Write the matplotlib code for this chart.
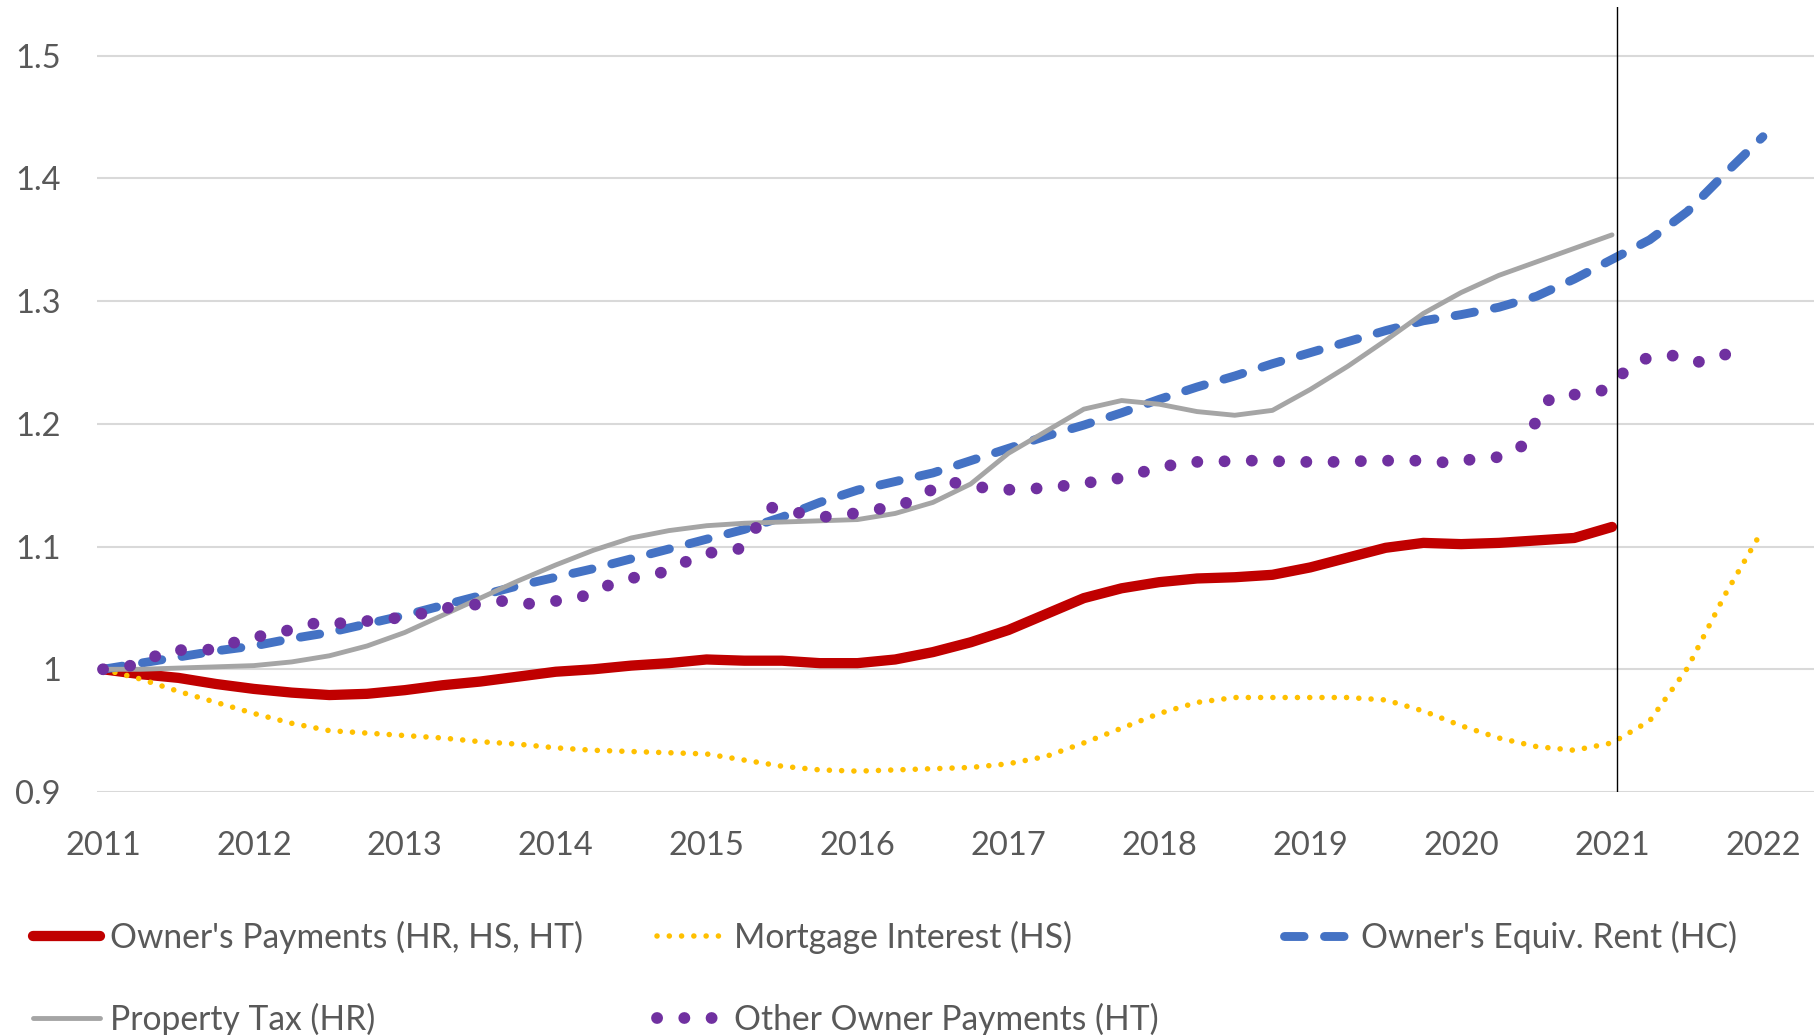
import matplotlib.pyplot as plt

# quarterly positions, 2011.00 .. 2022.00
quarters = [2011 + i / 4 for i in range(45)]

owners_payments = [1.000, 0.996, 0.993, 0.988, 0.984, 0.981, 0.979, 0.980,
                   0.983, 0.987, 0.990, 0.994, 0.998, 1.000, 1.003, 1.005,
                   1.008, 1.007, 1.007, 1.005, 1.005, 1.008, 1.014, 1.022,
                   1.032, 1.045, 1.058, 1.066, 1.071, 1.074, 1.075, 1.077,
                   1.083, 1.091, 1.099, 1.103, 1.102, 1.103, 1.105, 1.107,
                   1.116]

mortgage_interest = [1.000, 0.992, 0.982, 0.973, 0.964, 0.956, 0.950, 0.948,
                     0.946, 0.944, 0.941, 0.939, 0.936, 0.934, 0.933, 0.932,
                     0.931, 0.926, 0.921, 0.918, 0.917, 0.918, 0.919, 0.920,
                     0.923, 0.929, 0.940, 0.952, 0.964, 0.973, 0.977, 0.977,
                     0.977, 0.977, 0.975, 0.966, 0.954, 0.944, 0.937, 0.934,
                     0.940, 0.958, 1.001, 1.061, 1.114]

owners_equiv_rent = [1.000, 1.005, 1.010, 1.015, 1.019, 1.025, 1.030, 1.037,
                     1.044, 1.052, 1.060, 1.068, 1.075, 1.082, 1.090, 1.098,
                     1.106, 1.114, 1.124, 1.136, 1.146, 1.153, 1.160, 1.170,
                     1.180, 1.190, 1.199, 1.209, 1.220, 1.230, 1.239, 1.249,
                     1.258, 1.267, 1.276, 1.284, 1.289, 1.295, 1.304, 1.318,
                     1.334, 1.350, 1.373, 1.404, 1.434]

property_tax = [1.000, 1.000, 1.001, 1.002, 1.003, 1.006, 1.011, 1.019,
                1.030, 1.044, 1.058, 1.072, 1.085, 1.097, 1.107, 1.113,
                1.117, 1.119, 1.120, 1.121, 1.122, 1.127, 1.136, 1.151,
                1.176, 1.194, 1.212, 1.219, 1.216, 1.210, 1.207, 1.211,
                1.228, 1.247, 1.268, 1.290, 1.307, 1.321, 1.332, 1.343,
                1.354]

years_other = [2011.00, 2011.25, 2011.41, 2011.58, 2011.76, 2011.93,
               2012.10, 2012.27, 2012.45, 2012.62, 2012.79, 2012.97,
               2013.14, 2013.32, 2013.49, 2013.67, 2013.85,
               2014.02, 2014.20, 2014.36, 2014.53, 2014.71, 2014.87,
               2015.03, 2015.21, 2015.32, 2015.42, 2015.59, 2015.76, 2015.93,
               2016.11, 2016.28, 2016.44, 2016.60, 2016.78, 2016.95,
               2017.12, 2017.30, 2017.48, 2017.65, 2017.83,
               2018.00, 2018.17, 2018.35, 2018.52, 2018.70, 2018.88,
               2019.05, 2019.23, 2019.40, 2019.58, 2019.76, 2019.94,
               2020.11, 2020.27, 2020.42, 2020.50, 2020.59, 2020.76, 2020.93,
               2021.07, 2021.22, 2021.39, 2021.56, 2021.73, 2021.90]
other_owner_payments = [1.000, 1.004, 1.015, 1.016, 1.016, 1.025,
                        1.028, 1.033, 1.039, 1.037, 1.040, 1.042,
                        1.046, 1.051, 1.053, 1.056, 1.053,
                        1.056, 1.060, 1.069, 1.075, 1.079, 1.088,
                        1.095, 1.098, 1.114, 1.132, 1.128, 1.124, 1.126,
                        1.130, 1.133, 1.143, 1.153, 1.149, 1.146,
                        1.147, 1.148, 1.152, 1.153, 1.159,
                        1.164, 1.169, 1.169, 1.170, 1.170, 1.169,
                        1.169, 1.169, 1.170, 1.170, 1.170, 1.168,
                        1.172, 1.173, 1.183, 1.203, 1.221, 1.224, 1.227,
                        1.241, 1.253, 1.256, 1.250, 1.256, 1.260]

x_ticks = list(range(2011, 2023))
y_ticks = [0.9, 1.0, 1.1, 1.2, 1.3, 1.4, 1.5]
y_labels = ["0.9", "1", "1.1", "1.2", "1.3", "1.4", "1.5"]

plt.rcParams['font.family'] = ['Lato', 'DejaVu Sans']
TXT = "#595959"
W, H = 1814, 1035

fig = plt.figure(figsize=(W / 100, H / 100), dpi=100)
ax = fig.add_axes([97 / W, 243 / H, 1 - 97 / W, (1035 - 243 - 7) / H])

red, = ax.plot(quarters[:41], owners_payments, color="#C00000", lw=7.4,
               solid_capstyle="round", zorder=3)
yellow, = ax.plot(quarters, mortgage_interest, color="#FFC000", lw=4,
                  linestyle=(0, (0.01, 2.2)), dash_capstyle="round", zorder=4)
blue, = ax.plot(quarters, owners_equiv_rent, color="#4472C4", lw=6.4,
                linestyle=(0, (2.2, 2.3)), dash_capstyle="round", zorder=5)
gray, = ax.plot(quarters[:41], property_tax, color="#A5A5A5", lw=3.5,
                solid_capstyle="round", zorder=6)
purple, = ax.plot(years_other, other_owner_payments, color="#7030A0", lw=8.5,
                  linestyle=(0, (0.01, 2.3)), dash_capstyle="round", zorder=7)

# marker line at the start of 2021
ax.axvline(2021.03, color="black", lw=1, zorder=8)

ax.set_xlim(2011 - 6 / 150.9, 2011 + (W - 103) / 150.9)
ax.set_ylim(0.9, 1.5 + (55.7 - 7) / 1227)
ax.set_xticks(x_ticks)
ax.set_xticklabels([str(y) for y in x_ticks])
ax.set_yticks(y_ticks)
ax.set_yticklabels(y_labels)
ax.tick_params(length=0, labelsize=23.5, labelcolor=TXT)
ax.tick_params(axis="x", pad=28)
ax.tick_params(axis="y", pad=26)
ax.grid(axis="y", color="#D9D9D9", lw=1.5, zorder=0)
for s in ax.spines.values():
    s.set_visible(False)

entries = [
    (red, "Owner's Payments (HR, HS, HT)", 33, 937),
    (yellow, "Mortgage Interest (HS)", 657, 937),
    (blue, "Owner's Equiv. Rent (HC)", 1284, 937),
    (gray, "Property Tax (HR)", 33, 1019),
    (purple, "Other Owner Payments (HT)", 657, 1019),
]
for h, label, x0, y0 in entries:
    fig.legend([h], [label], loc="center left",
               bbox_to_anchor=(x0 / W, 1 - y0 / H), frameon=False,
               borderpad=0, borderaxespad=0, handlelength=2.0,
               handletextpad=0.3, fontsize=24.2, labelcolor=TXT)

fig.savefig("out.png", dpi=100)
